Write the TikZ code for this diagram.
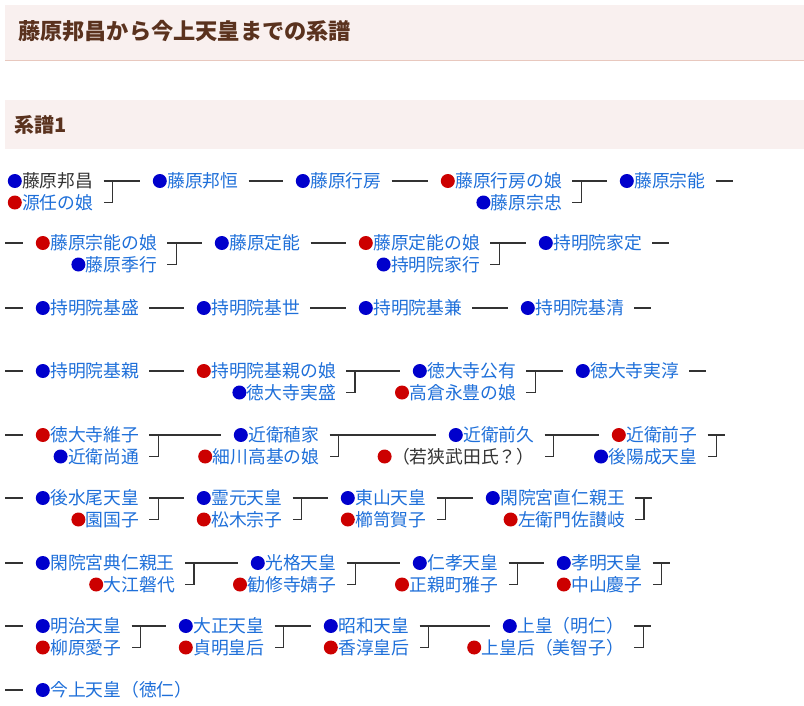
\documentclass[tikz,border=0pt]{standalone}
\usepackage{fontspec}
\newfontfamily\jp{Noto Sans CJK JP}
\definecolor{linkblue}{HTML}{1E6FD9}
\definecolor{dotblue}{HTML}{0000CC}
\definecolor{dotred}{HTML}{CC0000}
\definecolor{linegray}{HTML}{333333}
\definecolor{headfill}{HTML}{F9F0EF}
\definecolor{headline}{HTML}{E8C8BE}
\definecolor{headtext}{HTML}{5A321E}
\begin{document}
\begin{tikzpicture}[x=1pt,y=-1pt,
  nm/.style={font=\jp\fontsize{17.8}{20}\selectfont,text=linkblue,inner sep=0pt,
    text height=15.7pt,text depth=2.1pt,label distance=2pt},
  mdot/.style={nm,label={[circle,fill=dotblue,inner sep=0pt,minimum size=14pt]left:{}}},
  fdot/.style={nm,label={[circle,fill=dotred,inner sep=0pt,minimum size=14pt]left:{}}},
  ln/.style={draw=linegray,line width=1.4pt},
  head/.style={anchor=west,inner sep=0pt,text=headtext}]
\useasboundingbox (0,0) rectangle (804,705);
\fill[headfill] (5,5) rectangle (804,60);
\draw[headline,line width=1pt] (5,60) -- (804,60);
\node[head,font=\jp\bfseries\fontsize{22.2}{26}\selectfont,text height=19.5pt,text depth=2.7pt] (title) at (18,31) {藤原邦昌から今上天皇までの系譜};
\fill[headfill] (5,100) rectangle (804,149);
\node[head,font=\jp\bfseries\fontsize{20}{24}\selectfont,text height=17.6pt,text depth=2.4pt] (sub) at (14,125) {系譜1};
% row 1
\node[mdot,anchor=west,text=black!80] (n1a) at (22,181) {藤原邦昌};
\node[fdot,anchor=east] (n1a2) at ([yshift=-21.5pt]n1a.east) {源任の娘};
\node[mdot,anchor=west] (n1b) at (167,181) {藤原邦恒};
\node[mdot,anchor=west] (n1c) at (310,181) {藤原行房};
\node[fdot,anchor=west] (n1d) at (455,181) {藤原行房の娘};
\node[mdot,anchor=east] (n1d2) at ([yshift=-21.5pt]n1d.east) {藤原宗忠};
\node[mdot,anchor=west] (n1e) at (634,181) {藤原宗能};
\draw[ln] ([xshift=10pt]n1a.east) -- ([xshift=-27pt]n1b.west);
\draw[ln] ([xshift=19pt]n1a.east) |- ([xshift=10pt]n1a2.east);
\draw[ln] ([xshift=10pt]n1b.east) -- ([xshift=-27pt]n1c.west);
\draw[ln] ([xshift=10pt]n1c.east) -- ([xshift=-27pt]n1d.west);
\draw[ln] ([xshift=10pt]n1d.east) -- ([xshift=-27pt]n1e.west);
\draw[ln] ([xshift=19pt]n1d.east) |- ([xshift=10pt]n1d2.east);
\draw[ln] ([xshift=10pt]n1e.east) -- ++(17,0);
% row 2
\coordinate (s2) at (5,243);
\node[fdot,anchor=west] (n2a) at (50,243) {藤原宗能の娘};
\node[mdot,anchor=east] (n2a2) at ([yshift=-21.5pt]n2a.east) {藤原季行};
\node[mdot,anchor=west] (n2b) at (229,243) {藤原定能};
\node[fdot,anchor=west] (n2c) at (373,243) {藤原定能の娘};
\node[mdot,anchor=east] (n2c2) at ([yshift=-21.5pt]n2c.east) {持明院家行};
\node[mdot,anchor=west] (n2d) at (553,243) {持明院家定};
\draw[ln] (s2) -- ([xshift=-27pt]n2a.west);
\draw[ln] ([xshift=10pt]n2a.east) -- ([xshift=-27pt]n2b.west);
\draw[ln] ([xshift=19pt]n2a.east) |- ([xshift=10pt]n2a2.east);
\draw[ln] ([xshift=10pt]n2b.east) -- ([xshift=-27pt]n2c.west);
\draw[ln] ([xshift=10pt]n2c.east) -- ([xshift=-27pt]n2d.west);
\draw[ln] ([xshift=19pt]n2c.east) |- ([xshift=10pt]n2c2.east);
\draw[ln] ([xshift=10pt]n2d.east) -- ++(17,0);
% row 3
\coordinate (s3) at (5,308);
\node[mdot,anchor=west] (n3a) at (50,308) {持明院基盛};
\node[mdot,anchor=west] (n3b) at (211,308) {持明院基世};
\node[mdot,anchor=west] (n3c) at (373,308) {持明院基兼};
\node[mdot,anchor=west] (n3d) at (535,308) {持明院基清};
\draw[ln] (s3) -- ([xshift=-27pt]n3a.west);
\draw[ln] ([xshift=10pt]n3a.east) -- ([xshift=-27pt]n3b.west);
\draw[ln] ([xshift=10pt]n3b.east) -- ([xshift=-27pt]n3c.west);
\draw[ln] ([xshift=10pt]n3c.east) -- ([xshift=-27pt]n3d.west);
\draw[ln] ([xshift=10pt]n3d.east) -- ++(17,0);
% row 4
\coordinate (s4) at (5,371);
\node[mdot,anchor=west] (n4a) at (50,371) {持明院基親};
\node[fdot,anchor=west] (n4b) at (211,371) {持明院基親の娘};
\node[mdot,anchor=east] (n4b2) at ([yshift=-21.5pt]n4b.east) {徳大寺実盛};
\node[mdot,anchor=west] (n4c) at (427,371) {徳大寺公有};
\node[fdot,anchor=east] (n4c2) at ([yshift=-21.5pt]n4c.east) {高倉永豊の娘};
\node[mdot,anchor=west] (n4d) at (590,371) {徳大寺実淳};
\draw[ln] (s4) -- ([xshift=-27pt]n4a.west);
\draw[ln] ([xshift=10pt]n4a.east) -- ([xshift=-27pt]n4b.west);
\draw[ln] ([xshift=10pt]n4b.east) -- ([xshift=-27pt]n4c.west);
\draw[ln] ([xshift=19pt]n4b.east) |- ([xshift=10pt]n4b2.east);
\draw[ln] ([xshift=10pt]n4c.east) -- ([xshift=-27pt]n4d.west);
\draw[ln] ([xshift=19pt]n4c.east) |- ([xshift=10pt]n4c2.east);
\draw[ln] ([xshift=10pt]n4d.east) -- ++(17,0);
% row 5
\coordinate (s5) at (5,435);
\node[fdot,anchor=west] (n5a) at (50,435) {徳大寺維子};
\node[mdot,anchor=east] (n5a2) at ([yshift=-21.5pt]n5a.east) {近衛尚通};
\node[mdot,anchor=west] (n5b) at (248,435) {近衛稙家};
\node[fdot,anchor=east] (n5b2) at ([yshift=-21.5pt]n5b.east) {細川高基の娘};
\node[mdot,anchor=west] (n5c) at (463,435) {近衛前久};
\node[fdot,anchor=east,text=black!80] (n5c2) at ([yshift=-21.5pt]n5c.east) {（若狭武田氏？）};
\node[fdot,anchor=west] (n5d) at (626,435) {近衛前子};
\node[mdot,anchor=east] (n5d2) at ([yshift=-21.5pt]n5d.east) {後陽成天皇};
\draw[ln] (s5) -- ([xshift=-27pt]n5a.west);
\draw[ln] ([xshift=10pt]n5a.east) -- ([xshift=-27pt]n5b.west);
\draw[ln] ([xshift=19pt]n5a.east) |- ([xshift=10pt]n5a2.east);
\draw[ln] ([xshift=10pt]n5b.east) -- ([xshift=-27pt]n5c.west);
\draw[ln] ([xshift=19pt]n5b.east) |- ([xshift=10pt]n5b2.east);
\draw[ln] ([xshift=10pt]n5c.east) -- ([xshift=-27pt]n5d.west);
\draw[ln] ([xshift=19pt]n5c.east) |- ([xshift=10pt]n5c2.east);
\draw[ln] ([xshift=10pt]n5d.east) -- ++(17,0);
\draw[ln] ([xshift=19pt]n5d.east) |- ([xshift=10pt]n5d2.east);
% row 6
\coordinate (s6) at (5,498);
\node[mdot,anchor=west] (n6a) at (50,498) {後水尾天皇};
\node[fdot,anchor=east] (n6a2) at ([yshift=-21.5pt]n6a.east) {園国子};
\node[mdot,anchor=west] (n6b) at (211,498) {霊元天皇};
\node[fdot,anchor=east] (n6b2) at ([yshift=-21.5pt]n6b.east) {松木宗子};
\node[mdot,anchor=west] (n6c) at (355,498) {東山天皇};
\node[fdot,anchor=east] (n6c2) at ([yshift=-21.5pt]n6c.east) {櫛笥賀子};
\node[mdot,anchor=west] (n6d) at (500,498) {閑院宮直仁親王};
\node[fdot,anchor=east] (n6d2) at ([yshift=-21.5pt]n6d.east) {左衛門佐讃岐};
\draw[ln] (s6) -- ([xshift=-27pt]n6a.west);
\draw[ln] ([xshift=10pt]n6a.east) -- ([xshift=-27pt]n6b.west);
\draw[ln] ([xshift=19pt]n6a.east) |- ([xshift=10pt]n6a2.east);
\draw[ln] ([xshift=10pt]n6b.east) -- ([xshift=-27pt]n6c.west);
\draw[ln] ([xshift=19pt]n6b.east) |- ([xshift=10pt]n6b2.east);
\draw[ln] ([xshift=10pt]n6c.east) -- ([xshift=-27pt]n6d.west);
\draw[ln] ([xshift=19pt]n6c.east) |- ([xshift=10pt]n6c2.east);
\draw[ln] ([xshift=10pt]n6d.east) -- ++(17,0);
\draw[ln] ([xshift=19pt]n6d.east) |- ([xshift=10pt]n6d2.east);
% row 7
\coordinate (s7) at (5,563);
\node[mdot,anchor=west] (n7a) at (50,563) {閑院宮典仁親王};
\node[fdot,anchor=east] (n7a2) at ([yshift=-21.5pt]n7a.east) {大江磐代};
\node[mdot,anchor=west] (n7b) at (265,563) {光格天皇};
\node[fdot,anchor=east] (n7b2) at ([yshift=-21.5pt]n7b.east) {勧修寺婧子};
\node[mdot,anchor=west] (n7c) at (427,563) {仁孝天皇};
\node[fdot,anchor=east] (n7c2) at ([yshift=-21.5pt]n7c.east) {正親町雅子};
\node[mdot,anchor=west] (n7d) at (571,563) {孝明天皇};
\node[fdot,anchor=east] (n7d2) at ([yshift=-21.5pt]n7d.east) {中山慶子};
\draw[ln] (s7) -- ([xshift=-27pt]n7a.west);
\draw[ln] ([xshift=10pt]n7a.east) -- ([xshift=-27pt]n7b.west);
\draw[ln] ([xshift=19pt]n7a.east) |- ([xshift=10pt]n7a2.east);
\draw[ln] ([xshift=10pt]n7b.east) -- ([xshift=-27pt]n7c.west);
\draw[ln] ([xshift=19pt]n7b.east) |- ([xshift=10pt]n7b2.east);
\draw[ln] ([xshift=10pt]n7c.east) -- ([xshift=-27pt]n7d.west);
\draw[ln] ([xshift=19pt]n7c.east) |- ([xshift=10pt]n7c2.east);
\draw[ln] ([xshift=10pt]n7d.east) -- ++(17,0);
\draw[ln] ([xshift=19pt]n7d.east) |- ([xshift=10pt]n7d2.east);
% row 8
\coordinate (s8) at (5,626);
\node[mdot,anchor=west] (n8a) at (50,626) {明治天皇};
\node[fdot,anchor=east] (n8a2) at ([yshift=-21.5pt]n8a.east) {柳原愛子};
\node[mdot,anchor=west] (n8b) at (193,626) {大正天皇};
\node[fdot,anchor=east] (n8b2) at ([yshift=-21.5pt]n8b.east) {貞明皇后};
\node[mdot,anchor=west] (n8c) at (338,626) {昭和天皇};
\node[fdot,anchor=east] (n8c2) at ([yshift=-21.5pt]n8c.east) {香淳皇后};
\node[mdot,anchor=west] (n8d) at (517,626) {上皇（明仁）};
\node[fdot,anchor=east] (n8d2) at ([yshift=-21.5pt]n8d.east) {上皇后（美智子）};
\draw[ln] (s8) -- ([xshift=-27pt]n8a.west);
\draw[ln] ([xshift=10pt]n8a.east) -- ([xshift=-27pt]n8b.west);
\draw[ln] ([xshift=19pt]n8a.east) |- ([xshift=10pt]n8a2.east);
\draw[ln] ([xshift=10pt]n8b.east) -- ([xshift=-27pt]n8c.west);
\draw[ln] ([xshift=19pt]n8b.east) |- ([xshift=10pt]n8b2.east);
\draw[ln] ([xshift=10pt]n8c.east) -- ([xshift=-27pt]n8d.west);
\draw[ln] ([xshift=19pt]n8c.east) |- ([xshift=10pt]n8c2.east);
\draw[ln] ([xshift=10pt]n8d.east) -- ++(17,0);
\draw[ln] ([xshift=19pt]n8d.east) |- ([xshift=10pt]n8d2.east);
% row 9
\coordinate (s9) at (5,690);
\node[mdot,anchor=west] (n9a) at (50,690) {今上天皇（徳仁）};
\draw[ln] (s9) -- ([xshift=-27pt]n9a.west);
\end{tikzpicture}
\end{document}
